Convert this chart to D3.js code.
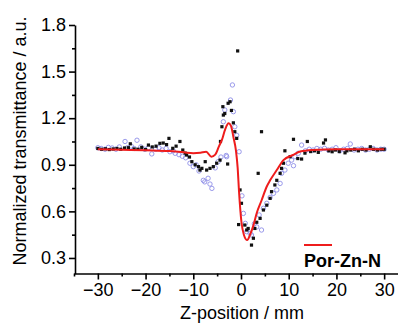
<!DOCTYPE html>
<html>
<head>
<meta charset="utf-8">
<script src="https://cdn.jsdelivr.net/npm/d3@7"></script>
<style>
  body { margin: 0; padding: 0; background: white; }
  svg { display: block; font-family: "Liberation Sans", Arial, sans-serif; }
  .axis path, .axis line { stroke: black; stroke-width: 1.6px; }
  .axis text { font-size: 18px; fill: black; font-family: "Liberation Sans", Arial, sans-serif; }
</style>
</head>
<body>
<svg width="398" height="325"></svg>
<script>
// z-scan data: [position mm, normalized transmittance]
const blackSquares = [
  [-30,1.005],[-29.2,1.0],[-28.4,1.003],[-27.6,0.998],[-26.8,1.002],[-26,1.005],[-25.2,1.0],
  [-24.4,1.008],[-23.6,1.01],[-23.2,1.035],[-22.4,1.002],[-21.6,1.0],[-20.8,1.012],[-20,0.998],
  [-19.4,1.027],[-18.6,1.015],[-17.8,1.02],[-17,1.038],[-16.3,1.04],[-15.6,1.03],[-15.1,1.07],
  [-14.3,1.006],[-13.6,1.02],[-12.8,1.05],[-12.2,0.995],[-11.7,0.975],[-11.4,0.963],[-10.8,0.95],
  [-10.3,0.92],[-9.6,0.90],[-8.9,0.888],[-8.6,0.866],[-8.2,0.877],[-7.5,0.92],[-7.2,0.866],
  [-6.5,0.877],[-5.8,0.888],[-5.1,0.91],[-4.4,0.93],[-4.3,1.05],[-4.0,1.145],[-3.8,1.274],
  [-3.7,1.22],[-3.4,1.23],[-2.8,0.905],[-2.7,1.296],[-2.3,1.306],[-2.0,1.25],[-1.6,1.17],
  [-1.3,1.113],[-0.9,1.07],[-0.7,1.633],[-0.5,0.515],[-0.2,0.738],[0.1,0.652],[0.8,0.512],
  [1.2,0.48],[1.5,0.49],[2.2,0.383],[2.6,0.427],[2.9,0.49],[3.3,0.53],[3.6,0.845],[4.0,0.555],
  [4.3,1.113],[4.7,0.609],[5.4,0.64],[6.1,0.684],[6.4,0.727],[7.1,0.77],[7.5,0.80],[8.2,0.845],
  [8.5,0.877],[8.9,0.91],[9.2,0.99],[10.3,0.952],[11.0,1.064],[11.9,0.94],[12.7,0.937],
  [13.4,0.975],[13.9,1.05],[14.6,0.985],[15.4,0.99],[16.2,0.98],[17.3,1.04],[17.7,1.06],
  [18.4,0.99],[19.1,0.984],[19.8,0.995],[20.6,0.985],[21.8,0.977],[22.2,0.99],[23.0,0.995],
  [23.8,1.0],[24.6,0.99],[25.4,1.0],[26.2,0.995],[27.1,1.016],[27.8,1.0],[28.6,0.995],
  [29.4,1.0],[30,1.0]
];

const blueCircles = [
  [-30,1.01],[-29.3,1.005],[-28.5,1.0],[-27.8,1.012],[-27,1.008],[-26.2,1.0],[-25.5,1.015],
  [-24.3,1.05],[-23.8,1.01],[-23,1.02],[-22.4,1.005],[-21.8,1.058],[-21,1.015],[-20.2,1.0],
  [-19.4,1.01],[-18.7,0.97],[-17.9,1.0],[-17.2,1.01],[-16.5,0.995],[-15.7,1.005],[-14.9,0.984],
  [-14.2,0.99],[-13.8,0.974],[-13,0.965],[-12.3,0.955],[-11.6,0.945],[-10.7,0.91],[-10,0.888],
  [-9.4,0.9],[-8.8,0.86],[-7.9,0.80],[-7.6,0.79],[-6.9,0.813],[-6.5,0.776],[-6.1,0.748],
  [-5.4,0.88],[-4.8,0.92],[-4.2,0.95],[-3.7,1.177],[-3.4,1.253],[-3.1,0.96],[-3.0,0.952],
  [-2.2,1.317],[-1.8,1.414],[-1.6,1.242],[-1.3,1.145],[-0.9,1.09],[-0.4,0.984],[0.2,0.70],
  [0.5,0.587],[0.9,0.523],[1.2,0.469],[1.9,0.459],[2.2,0.448],[2.8,0.52],[3.3,0.50],
  [3.8,0.577],[4.3,0.48],[4.7,0.62],[5.4,0.652],[6.1,0.69],[6.8,0.716],[7.5,0.738],[8.2,0.78],
  [8.5,0.845],[9.2,0.866],[9.9,0.91],[10.6,0.93],[11.0,0.894],[11.3,0.952],[12.0,0.974],
  [12.7,1.027],[13.5,0.99],[14.3,1.0],[15.1,0.995],[15.9,1.005],[16.7,1.0],[17.5,1.006],
  [18.3,0.995],[19.1,1.0],[19.9,1.01],[20.7,0.99],[21.5,1.0],[22.3,1.005],[22.9,1.034],
  [23.7,0.995],[24.5,1.0],[25.3,1.005],[26.1,0.995],[26.9,1.0],[27.7,1.005],[28.5,0.995],
  [29.3,1.0],[30,1.0]
];

// fitted curve (red)
const fitLine = [
  [-30,1.0],[-25,0.997],[-20,0.993],[-15,0.988],[-12,0.98],[-10,0.975],[-8.5,0.978],
  [-7.3,0.984],[-6.2,0.952],[-5.4,0.965],[-4.6,1.02],[-4.0,1.06],[-3.3,1.13],[-2.6,1.167],
  [-2.1,1.15],[-1.6,1.08],[-1.05,0.99],[-0.7,0.88],[-0.4,0.72],[0.1,0.53],[0.6,0.45],
  [1.3,0.415],[1.9,0.45],[2.6,0.51],[3.3,0.59],[4.3,0.67],[5.4,0.76],[6.1,0.8],[7.5,0.866],
  [8.9,0.93],[10.9,0.963],[12.4,0.985],[15,0.995],[20,1.0],[25,1.0],[30,1.0]
];

const xTicks = [-30, -20, -10, 0, 10, 20, 30];
const xMinor = [-35, -25, -15, -5, 5, 15, 25, 35];
const yTicks = [0.3, 0.6, 0.9, 1.2, 1.5, 1.8];
const yMinor = [0.45, 0.75, 1.05, 1.35, 1.65];
const legendLabel = "Por-Zn-N";

const svg = d3.select("svg");

const x = d3.scaleLinear().domain([-35, 35]).range([74, 408]);
const y = d3.scaleLinear().domain([0.2, 1.8]).range([273.5, 25]);

const fmtX = d => d < 0 ? "\u2212" + Math.abs(d) : "" + d;

// minor ticks first
svg.append("g").attr("class", "axis")
  .attr("transform", "translate(0,273.5)")
  .call(d3.axisBottom(x).tickValues(xMinor).tickSize(3).tickSizeOuter(0).tickFormat(""))
  .select(".domain").remove();
svg.append("g").attr("class", "axis")
  .attr("transform", "translate(75,0)")
  .call(d3.axisLeft(y).tickValues(yMinor).tickSize(3).tickSizeOuter(0).tickFormat(""))
  .select(".domain").remove();

// major axes
svg.append("g").attr("class", "axis")
  .attr("transform", "translate(0,273.5)")
  .call(d3.axisBottom(x).tickValues(xTicks).tickSize(6).tickSizeOuter(0).tickPadding(4).tickFormat(fmtX));

svg.append("g").attr("class", "axis")
  .attr("transform", "translate(75,0)")
  .call(d3.axisLeft(y).tickValues(yTicks).tickSize(6).tickSizeOuter(0).tickPadding(3).tickFormat(d3.format(".1f")));

// blue open circles
svg.append("g").selectAll("circle")
  .data(blueCircles)
  .join("circle")
  .attr("cx", d => x(d[0]))
  .attr("cy", d => y(d[1]))
  .attr("r", 2.2)
  .attr("fill", "none")
  .attr("stroke", "#8f8fe8")
  .attr("stroke-width", 0.9);

// black squares
svg.append("g").selectAll("rect")
  .data(blackSquares)
  .join("rect")
  .attr("x", d => x(d[0]) - 1.6)
  .attr("y", d => y(d[1]) - 1.6)
  .attr("width", 3.2)
  .attr("height", 3.2)
  .attr("fill", "#111");

// red fit
svg.append("path")
  .datum(fitLine)
  .attr("fill", "none")
  .attr("stroke", "#ee1c1c")
  .attr("stroke-width", 2)
  .attr("d", d3.line().x(d => x(d[0])).y(d => y(d[1])).curve(d3.curveMonotoneX));

// axis titles
svg.append("text")
  .attr("transform", "translate(26,141) rotate(-90)")
  .attr("text-anchor", "middle")
  .attr("font-size", "18px")
  .text("Normalized transmittance / a.u.");

svg.append("text")
  .attr("x", 242)
  .attr("y", 319)
  .attr("text-anchor", "middle")
  .attr("font-size", "18px")
  .text("Z-position / mm");

// legend
svg.append("line")
  .attr("x1", 304).attr("x2", 332)
  .attr("y1", 245).attr("y2", 245)
  .attr("stroke", "#ee1c1c")
  .attr("stroke-width", 2);
svg.append("text")
  .attr("x", 304)
  .attr("y", 267)
  .attr("font-size", "18px")
  .attr("font-weight", "bold")
  .text(legendLabel);
</script>
</body>
</html>
